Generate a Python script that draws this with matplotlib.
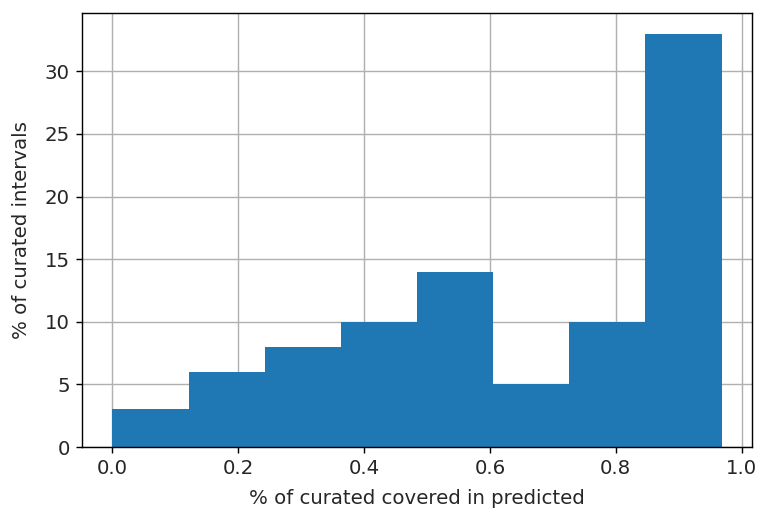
import matplotlib
matplotlib.use("Agg")
import matplotlib.pyplot as plt
import numpy as np

bin_edges = [0.0, 0.121, 0.242, 0.363, 0.484, 0.605, 0.726, 0.847, 0.968]
counts = [3, 6, 8, 10, 14, 5, 10, 33]

plt.rcParams["font.size"] = 11.2
plt.rcParams["text.color"] = "#262626"
plt.rcParams["xtick.labelcolor"] = "#262626"
plt.rcParams["ytick.labelcolor"] = "#262626"
plt.rcParams["axes.labelcolor"] = "#262626"

fig = plt.figure(figsize=(6.0, 510 / 127), dpi=127)
ax = fig.add_axes([0.1076, 0.1235, 0.8793, 0.851])
ax.hist(bin_edges[:-1], bins=bin_edges, weights=counts, color="#1f77b4")
ax.grid(True)
ax.set_axisbelow(True)
ax.set_xlabel("% of curated covered in predicted", labelpad=6.2)
ax.set_ylabel("% of curated intervals", labelpad=7.4)
fig.savefig("out.png", dpi=127)
